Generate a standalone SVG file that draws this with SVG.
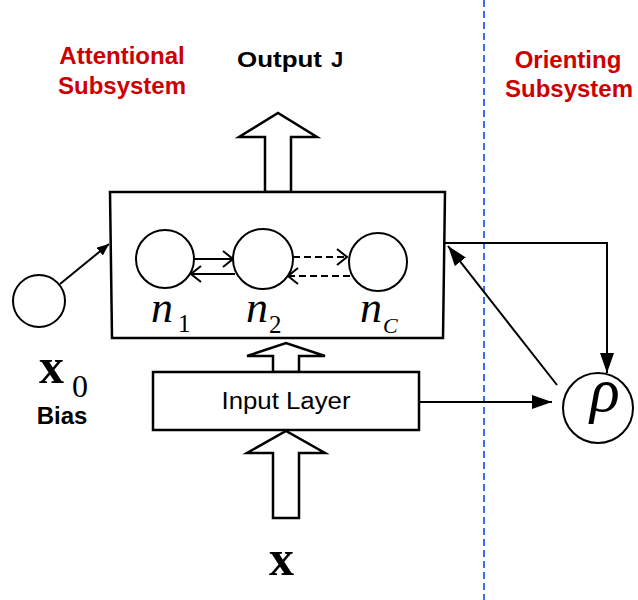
<svg xmlns="http://www.w3.org/2000/svg" width="638" height="600" viewBox="0 0 638 600">
<defs>
<style>
.ln{fill:none;stroke:#000;stroke-width:2}
.bx{fill:#fff;stroke:#000;stroke-width:2.5}
.blk{fill:#fff;stroke:#000;stroke-width:2.5;stroke-linejoin:miter}
.red{font-family:"Liberation Sans",Arial,sans-serif;font-weight:bold;font-size:24px;fill:#cc0000;text-anchor:middle}
.lab{font-family:"Liberation Sans",Arial,sans-serif;font-weight:bold;fill:#000}
.ser{font-family:"Liberation Serif","Times New Roman",serif;fill:#000}
.chev{fill:none;stroke:#000;stroke-width:2}
</style>
<marker id="fa" viewBox="0 0 20 14" refX="20" refY="7" markerWidth="20" markerHeight="14" markerUnits="userSpaceOnUse" orient="auto">
<path d="M0,0 L20,7 L0,14 Z" fill="#000"/>
</marker>
<marker id="fs" viewBox="0 0 12 10" refX="12" refY="5" markerWidth="12" markerHeight="10" markerUnits="userSpaceOnUse" orient="auto">
<path d="M0,0 L12,5 L0,10 Z" fill="#000"/>
</marker>
<marker id="ch" viewBox="0 0 12 18" refX="11" refY="9" markerWidth="12" markerHeight="18" markerUnits="userSpaceOnUse" orient="auto">
<path d="M1,1 L11,9 L1,17" fill="none" stroke="#000" stroke-width="2"/>
</marker>
</defs>
<rect width="638" height="600" fill="#fff"/>

<line x1="484" y1="0" x2="484" y2="600" stroke="#3b6ef5" stroke-width="2" stroke-dasharray="7,4"/>

<g id="labels">
<text class="red" x="122" y="64">Attentional</text>
<text class="red" x="122" y="94">Subsystem</text>
<text class="red" x="568" y="68">Orienting</text>
<text class="red" x="569" y="97">Subsystem</text>
<text class="lab" x="237" y="67" font-size="22"><tspan textLength="85" lengthAdjust="spacingAndGlyphs">Output</tspan><tspan x="331">J</tspan></text>
</g>

<g id="output-arrow">
<polygon class="blk" points="265,192 265,137 239,137 278,113 317,137 291,137 291,192"/>
</g>

<g id="attentional-layer">
<polygon class="bx" points="110,192 445,192 443,338 112,338"/>
</g>

<g id="n1">
<circle class="ln" cx="165" cy="259" r="29"/>
<text class="ser" x="151" y="322" font-size="44"><tspan font-style="italic">n</tspan><tspan x="178" y="332" font-size="25">1</tspan></text>
</g>
<g id="n2">
<circle class="ln" cx="263" cy="259" r="30"/>
<text class="ser" x="246" y="322" font-size="44"><tspan font-style="italic">n</tspan><tspan x="269" y="333" font-size="25">2</tspan></text>
</g>
<g id="nC">
<circle class="ln" cx="378" cy="262" r="29"/>
<text class="ser" x="360" y="322" font-size="44" font-style="italic">n<tspan x="383" y="333" font-size="22">C</tspan></text>
</g>

<g id="input-arrow-up">
<polygon class="blk" points="273,372 273,356 247,356 286,343 325,356 299,356 299,372"/>
</g>

<g id="input-layer">
<rect class="bx" x="153" y="372" width="266" height="58"/>
<text x="286" y="409" font-family="'Liberation Sans',Arial,sans-serif" font-size="23" text-anchor="middle" textLength="129" lengthAdjust="spacingAndGlyphs">Input Layer</text>
</g>

<g id="input-arrow">
<polygon class="blk" points="273,518 273,453 247,453 286,431 325,453 299,453 299,518"/>
</g>

<g id="x-input">
<text class="ser" x="281.5" y="575" font-size="50" font-weight="bold" text-anchor="middle">x</text>
</g>

<g id="bias">
<circle class="ln" cx="39" cy="301" r="26"/>
<text class="ser" x="39" y="383" font-size="50" font-weight="bold">x<tspan x="72" y="397" font-size="32" font-weight="normal">0</tspan></text>
<text class="lab" x="62" y="424" font-size="24" text-anchor="middle">Bias</text>
</g>

<g id="rho">
<circle class="ln" cx="598" cy="408" r="35"/>
<text class="ser" x="605" y="411" font-size="62" font-style="italic" text-anchor="middle">ρ</text>
</g>

<g id="connectors">
<line class="ln" stroke-width="1.5" x1="60" y1="284" x2="109" y2="244" marker-end="url(#fs)"/>
<line class="chev" x1="193" y1="259" x2="233" y2="259" marker-end="url(#ch)"/>
<line class="chev" x1="235" y1="274" x2="191" y2="274" marker-end="url(#ch)"/>
<line class="chev" x1="293" y1="257" x2="347" y2="257" stroke-dasharray="7,4" marker-end="url(#ch)"/>
<line class="chev" x1="350" y1="276" x2="288" y2="276" stroke-dasharray="7,4" marker-end="url(#ch)"/>
<polyline class="ln" points="445,243 607,243 607,373" marker-end="url(#fa)"/>
<line class="ln" x1="557" y1="385" x2="448" y2="246" marker-end="url(#fa)"/>
<line class="ln" x1="419" y1="402" x2="552" y2="402" marker-end="url(#fa)"/>
</g>
</svg>
